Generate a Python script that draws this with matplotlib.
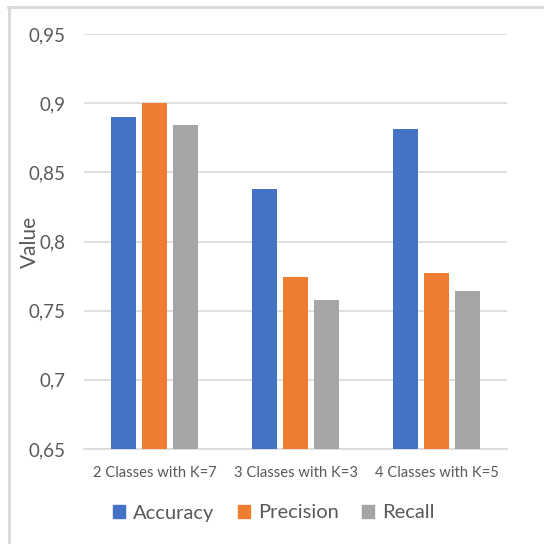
import numpy as np
import matplotlib
matplotlib.use('Agg')
import matplotlib.pyplot as plt
from matplotlib.lines import Line2D

# Metric values per class configuration
categories = ["2 Classes with K=7", "3 Classes with K=3", "4 Classes with K=5"]
accuracy = [0.890, 0.838, 0.881]
precision = [0.900, 0.774, 0.777]
recall = [0.884, 0.758, 0.764]
y_ticks = [0.65, 0.7, 0.75, 0.8, 0.85, 0.9, 0.95]
y_tick_labels = ["0,65", "0,7", "0,75", "0,8", "0,85", "0,9", "0,95"]

series = [("Accuracy", accuracy, "#4472C4"),
          ("Precision", precision, "#ED7D31"),
          ("Recall", recall, "#A5A5A5")]

plt.rcParams['font.family'] = ['Lato', 'DejaVu Sans']
text_color = "#595959"
grid_color = "#D9D9D9"

W, H = 544, 544
fig = plt.figure(figsize=(W / 100, H / 100), dpi=100)
ax = fig.add_axes([84 / W, 1 - 449 / H, (507 - 84) / W, (449 - 34) / H])

x = np.arange(len(categories))
step = 0.22
width = 0.176
for i, (name, vals, color) in enumerate(series):
    ax.bar(x + (i - 1) * step, vals, width, color=color, label=name, zorder=3)

ax.set_xlim(-0.5, len(categories) - 0.5)
ax.set_ylim(0.65, 0.95)
ax.set_yticks(y_ticks)
ax.set_yticklabels(y_tick_labels, fontsize=13.5, color=text_color)
ax.set_xticks(x)
ax.set_xticklabels(categories, fontsize=10.6, color=text_color)
ax.tick_params(length=0, axis='y', pad=13)
ax.tick_params(length=0, axis='x', pad=12)
ax.yaxis.grid(True, color=grid_color, linewidth=1.2, zorder=0)
for side in ['top', 'right', 'left']:
    ax.spines[side].set_visible(False)
ax.spines['bottom'].set_color(grid_color)
ax.spines['bottom'].set_linewidth(1.2)

ax.set_ylabel("Value", fontsize=15, color=text_color)
ax.yaxis.set_label_coords(-0.105, 0.5)

# Legend below the plot
handles = [plt.Rectangle((0, 0), 1, 1, color=c) for _, _, c in series]
fig.legend(handles, [n for n, _, _ in series], loc='center',
           bbox_to_anchor=(274 / W, 1 - 513 / H), ncol=3, frameon=False,
           fontsize=14.5, handlelength=0.6, handleheight=0.6,
           handletextpad=0.4, columnspacing=1.15, labelcolor=text_color)

# Chart area border (top and left edges)
fig.add_artist(Line2D([8 / W, 1], [1 - 7 / H, 1 - 7 / H], color="#D9D9D9", linewidth=2))
fig.add_artist(Line2D([9 / W, 9 / W], [0, 1 - 7 / H], color="#D9D9D9", linewidth=2))

fig.savefig("out.png", dpi=100)
